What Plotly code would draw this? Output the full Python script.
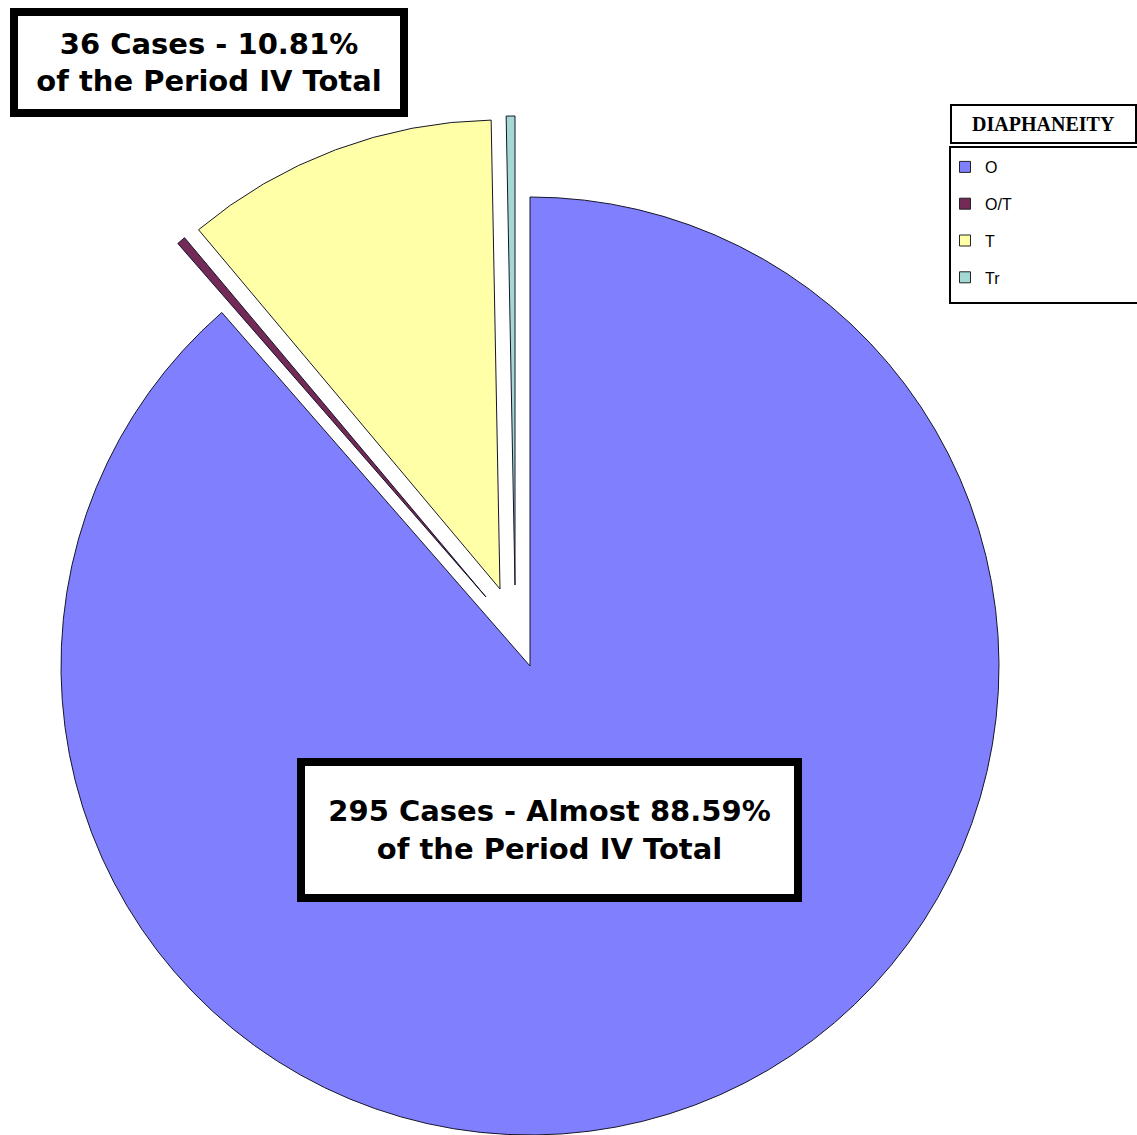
import plotly.graph_objects as go

# Period IV cases by diaphaneity
labels = ["O", "O/T", "T", "Tr"]
cases = [295, 1, 36, 1]
colors = ["#8080ff", "#732a56", "#ffffa8", "#a3d9d2"]

W, H = 1137, 1135
# pie centre and radius in pixels, plus the shift of each exploded slice
cx, cy, r = 530, 666, 469
shift = {"O": (0, 0), "O/T": (-44, -69), "T": (-30, -77), "Tr": (-15, -81)}

total = sum(cases)
pct = {lab: 100 * v / total for lab, v in zip(labels, cases)}

fig = go.Figure()

# one pie per slice so each exploded slice keeps the full radius
for i, lab in enumerate(labels):
    dx, dy = shift[lab]
    px_, py_ = cx + dx, cy + dy
    fill = ["rgba(0,0,0,0)"] * len(labels)
    edge = ["rgba(0,0,0,0)"] * len(labels)
    fill[i] = colors[i]
    edge[i] = "#15152a"
    fig.add_trace(go.Pie(
        labels=labels,
        values=cases,
        sort=False,
        direction="clockwise",
        rotation=0,
        textinfo="none",
        hoverinfo="label+value+percent",
        showlegend=False,
        marker=dict(colors=fill, line=dict(color=edge, width=1)),
        domain=dict(x=[(px_ - r) / W, (px_ + r) / W],
                    y=[(H - py_ - r) / H, (H - py_ + r) / H]),
    ))

# legend entries
for lab, col in zip(labels, colors):
    fig.add_trace(go.Scatter(
        x=[None], y=[None], mode="markers", name=lab, legendgroup=lab,
        marker=dict(symbol="square", size=11, color=col,
                    line=dict(color="#222", width=1)),
    ))

box_font = dict(family="DejaVu Sans", size=29, color="black")

fig.update_layout(
    width=W, height=H,
    margin=dict(l=0, r=0, t=0, b=0),
    paper_bgcolor="white",
    plot_bgcolor="white",
    xaxis=dict(visible=False),
    yaxis=dict(visible=False),
    legend=dict(
        x=945 / W, y=1 - 150 / H, xanchor="left", yanchor="top",
        borderwidth=0, bgcolor="rgba(0,0,0,0)",
        font=dict(family="Liberation Sans", size=16, color="black"),
        tracegroupgap=13,
    ),
    # legend frame runs off the right edge like the original
    shapes=[dict(type="rect", xref="paper", yref="paper",
                 x0=950 / W, x1=1145 / W, y0=1 - 303 / H, y1=1 - 147 / H,
                 line=dict(color="black", width=2), layer="below")],
    annotations=[
        dict(
            x=209 / W, y=1 - 62.5 / H, xref="paper", yref="paper",
            xanchor="center", yanchor="middle", showarrow=False,
            text="<b>%d Cases - %.2f%%<br>of the Period IV Total</b>" % (cases[2], pct["T"]),
            font=box_font, bgcolor="white", bordercolor="black",
            borderwidth=8, borderpad=0, width=382, height=93,
        ),
        dict(
            x=549.5 / W, y=1 - 830 / H, xref="paper", yref="paper",
            xanchor="center", yanchor="middle", showarrow=False,
            text="<b>%d Cases - Almost %.2f%%<br>of the Period IV Total</b>" % (cases[0], pct["O"]),
            font=box_font, bgcolor="white", bordercolor="black",
            borderwidth=8, borderpad=0, width=489, height=128,
        ),
        dict(
            x=950 / W, y=1 - 104 / H, xref="paper", yref="paper",
            xanchor="left", yanchor="top", showarrow=False,
            text="<b>DIAPHANEITY</b>",
            font=dict(family="Liberation Serif", size=20, color="black"),
            bgcolor="white", bordercolor="black",
            borderwidth=2, borderpad=0, width=183, height=36,
        ),
    ],
)

fig.write_html("out.html", config={"displayModeBar": False},
               post_script="document.body.style.margin='0';")
